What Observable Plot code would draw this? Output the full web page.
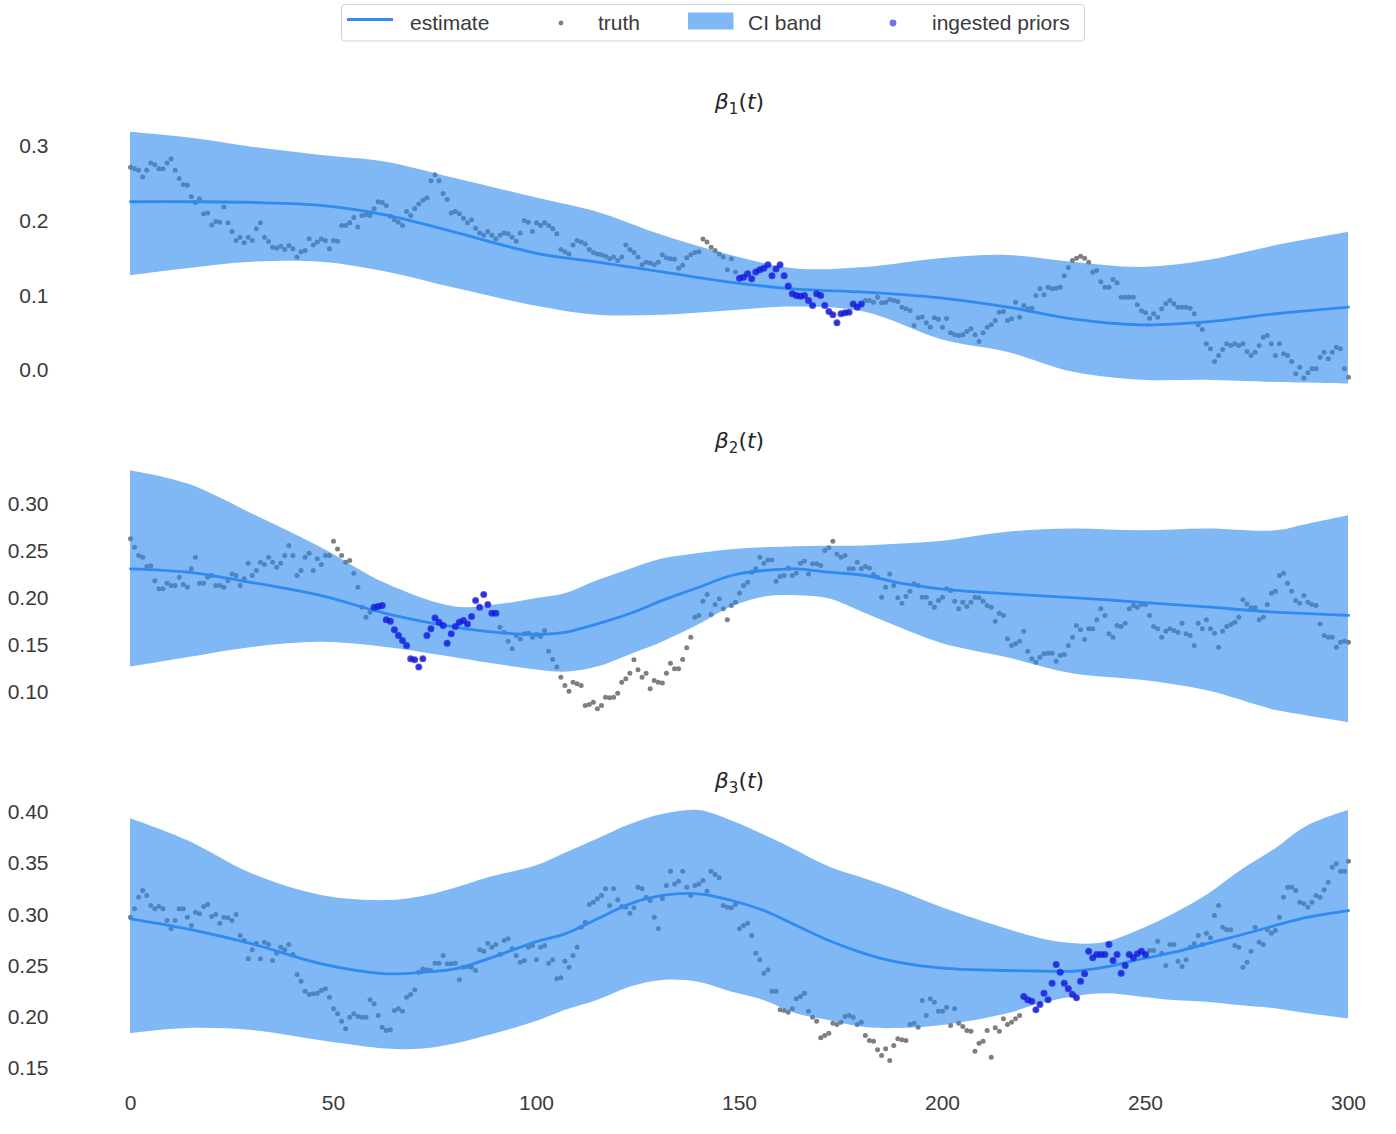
<!DOCTYPE html>
<html>
<head>
<meta charset="utf-8">
<script src="https://cdn.jsdelivr.net/npm/d3@7"></script>
<script src="https://cdn.jsdelivr.net/npm/@observablehq/plot@0.6"></script>
<style>
  html, body { margin: 0; padding: 0; background: #fff; overflow: hidden; }
  #root { width: 1396px; }
  #root svg { display: block; }
</style>
</head>
<body>
<div id="root"></div>
<script>
// ---------- data ----------
const xTicks = [0, 50, 100, 150, 200, 250, 300];
const titleSubs = ["1", "2", "3"];
const legendLabels = ["estimate", "truth", "CI band", "ingested priors"];

// ingested prior windows (days) per panel
const priorStart = [150, 60, 220];
const priorEnd = [180, 90, 250];

// truth, one value per day t = 0..300
const truth1 = [
0.272,0.270,0.268,0.259,0.268,0.278,0.2755,0.270,0.270,0.278,
0.2835,0.268,0.257,0.249,0.248,0.233,0.225,0.230,0.210,0.211,
0.195,0.1995,0.1986,0.219,0.198,0.186,0.174,0.1785,0.171,0.1785,
0.174,0.1897,0.198,0.1785,0.1728,0.165,0.164,0.1665,0.162,0.1674,
0.163,0.152,0.159,0.1607,0.1763,0.168,0.172,0.176,0.174,0.163,
0.174,0.173,0.194,0.194,0.198,0.205,0.192,0.2076,0.2085,0.2076,
0.2165,0.226,0.225,0.221,0.2067,0.202,0.1986,0.194,0.213,0.2076,
0.217,0.223,0.228,0.231,0.254,0.262,0.254,0.237,0.229,0.211,
0.213,0.210,0.204,0.198,0.202,0.1906,0.184,0.181,0.186,0.181,
0.176,0.181,0.184,0.183,0.1785,0.173,0.184,0.201,0.1986,0.186,
0.198,0.194,
0.1978,0.194,0.1897,0.183,0.162,0.159,0.156,0.168,0.174,0.172,
0.1695,0.162,0.158,0.156,0.155,0.153,0.1496,0.152,0.1473,0.152,
0.168,0.162,0.158,0.152,0.1415,0.145,0.144,0.1415,0.145,0.155,
0.151,0.1496,0.149,0.137,0.141,0.151,0.155,0.158,0.159,0.176,
0.172,0.165,0.1607,0.156,0.152,0.135,0.1496,0.132,0.1236,0.125,
0.1295,0.1227,0.132,0.135,0.137,0.1415,0.127,0.136,0.1415,0.127,
0.113,0.1027,0.1005,0.0995,0.1005,0.0937,0.087,0.1027,0.1005,0.087,
0.079,0.0745,0.0638,0.0759,0.0772,0.078,0.0892,0.0848,0.0892,0.0937,
0.0937,0.0915,0.098,0.0906,0.0915,0.095,0.0937,0.0924,0.0848,0.0826,
0.0803,0.0602,0.0705,0.0718,0.0638,0.058,0.0705,0.0687,0.058,0.0696,
0.0504,0.0478,0.0469,0.0478,0.0522,0.0558,0.0478,0.0388,0.0504,0.058,
0.0612,0.067,0.078,0.079,0.067,0.0692,0.0915,0.0714,0.087,0.0826,
0.0834,0.1004,0.1094,0.1013,0.1116,0.1094,0.110,0.1116,0.127,0.138,
0.1473,0.1504,0.153,0.1504,0.145,0.1317,0.134,0.119,0.1116,0.1116,
0.122,0.1174,0.0982,0.0982,0.0982,0.0982,0.088,0.080,0.0773,0.070,
0.0759,0.0714,0.0826,0.0893,0.0937,0.0893,0.0848,0.0848,0.0848,0.0834,
0.0759,0.0612,0.0549,0.0357,0.029,0.012,0.020,0.028,0.0357,0.0335,
0.0357,0.0335,0.0357,0.0254,0.020,0.0245,0.0335,0.0446,0.0469,0.0357,
0.020,0.0357,0.0223,0.020,0.012,-0.0045,0.0045,-0.010,-0.003,0.0022,
0.0022,0.0179,0.0245,0.0156,0.0245,0.0313,0.029,0.0022,-0.009
];
const truth2 = [
0.2635,0.2546,0.2457,0.244,0.234,0.235,0.219,0.2103,0.2103,0.2163,
0.2138,0.2138,0.2227,0.2149,0.212,0.2316,0.244,0.2163,0.2163,0.2227,
0.2245,0.2138,0.2138,0.212,0.219,0.2262,0.2245,0.2138,0.221,0.2376,
0.2245,0.2298,0.2387,0.2362,0.244,0.2387,0.2333,0.2376,0.2457,0.2564,
0.2457,0.2245,0.2298,0.244,0.2482,0.2298,0.2422,0.2362,0.2457,0.2457,
0.261,0.2528,0.2457,0.2387,0.2404,0.227,0.212,0.1908,0.180,0.1855,
0.1908,0.1915,0.1926,0.1773,0.1759,0.1667,0.1606,0.1553,0.150,0.1358,
0.1348,0.127,0.1358,0.1606,0.1677,0.1794,0.1748,0.1713,0.1525,0.1624,
0.1702,0.1748,0.1766,0.173,0.1809,0.1979,0.1908,0.2043,0.1936,0.1844,
0.1844,0.1695,0.1642,0.1546,0.1465,0.1606,0.157,0.1624,0.1631,0.1589,
0.1617,0.1596,
0.166,0.144,0.1351,0.127,0.1163,0.1074,0.1014,0.111,0.1092,0.1074,
0.0862,0.0872,0.0897,0.0826,0.0862,0.095,0.0943,0.095,0.0993,0.111,
0.1145,0.1206,0.1348,0.1241,0.1163,0.1206,0.1039,0.1128,0.111,0.110,
0.1206,0.1312,0.1252,0.1252,0.1351,0.1475,0.1589,0.180,0.1819,0.1972,
0.2043,0.183,0.1936,0.1997,0.189,0.1773,0.1926,0.1961,0.2057,0.2138,
0.2174,0.228,0.2316,0.244,0.2376,0.2411,0.2411,0.2184,0.2234,0.2245,
0.2326,0.2245,0.227,0.2376,0.2397,0.2262,0.2369,0.2369,0.2351,0.2511,
0.2539,0.261,0.2475,0.244,0.2457,0.2316,0.2316,0.2387,0.2316,0.234,
0.2326,0.2255,0.2227,0.2014,0.212,0.2262,0.2138,0.2007,0.195,0.2021,
0.2078,0.2156,0.2138,0.2014,0.2014,0.195,0.1908,0.1979,0.2014,0.2103,0.2085,
0.1972,0.189,0.1961,0.1915,0.1961,0.2014,0.2007,0.1972,0.1926,0.1908,
0.1759,0.1844,0.1819,0.1571,0.150,0.1518,0.1546,0.1652,0.144,0.1358,
0.1323,0.1376,0.1411,0.1418,0.1418,0.1333,0.1394,0.1404,0.150,0.1589,
0.1713,0.1667,0.1564,0.1677,0.1677,0.1773,0.189,0.1819,0.1624,0.1589,
0.1713,0.1702,0.1738,0.189,0.1926,0.1908,0.1936,0.1936,0.1819,0.1702,
0.1677,0.1589,0.1652,0.1677,0.166,0.1642,0.1738,0.1624,0.1606,0.150,
0.1738,0.1677,0.1773,0.1677,0.1631,0.1482,0.1652,0.1702,0.1723,0.1748,
0.180,0.1986,0.1943,0.1901,0.1901,0.1773,0.180,0.1936,0.2057,0.2078,
0.2245,0.227,0.2163,0.2078,0.1979,0.195,0.2032,0.1961,0.1936,0.1926,
0.173,0.1606,0.1589,0.1589,0.1482,0.1535,0.1546,0.1535
];
const truth3 = [
0.2978,0.306,0.3173,0.3238,0.319,0.3092,0.306,0.3082,0.306,0.2945,
0.2864,0.2945,0.306,0.306,0.2978,0.2897,0.3027,0.3011,0.3082,0.3102,
0.2984,0.3004,0.2919,0.2978,0.2972,0.2945,0.3004,0.2799,0.275,0.2571,
0.2659,0.2724,0.2571,0.2733,0.2711,0.2555,0.2626,0.2685,0.2659,0.2711,
0.2613,0.2418,0.2353,0.2255,0.2223,0.2229,0.2236,0.2262,0.2278,0.2197,
0.2083,0.2034,0.1962,0.1888,0.2001,0.2034,0.2008,0.2001,0.2001,0.2171,
0.2132,0.2018,0.1904,0.1871,0.1878,0.2066,0.2083,0.206,0.2197,0.2223,
0.2269,0.2441,0.2473,0.2464,0.2457,0.2528,0.2528,0.2604,0.2522,0.2522,
0.2528,0.2366,0.2489,0.2496,0.2489,0.2457,0.2659,0.2646,0.2724,0.2685,
0.2711,0.2613,0.275,0.2767,0.2669,0.2604,0.2538,0.2555,0.2685,0.2701,0.2561,
0.2685,0.2701,0.2529,0.2561,0.2376,0.2386,0.2548,0.2489,0.2604,0.2685,
0.288,0.2929,0.3102,0.3124,0.3157,0.319,0.3255,0.3092,0.3255,0.3147,
0.3082,0.3075,0.3017,0.3069,0.3271,0.3255,0.3173,0.3141,0.2978,0.2864,
0.3157,0.3287,0.3427,0.3303,0.3329,0.3427,0.3271,0.319,0.3287,0.3303,
0.3336,0.3232,0.3427,0.3394,0.3362,0.3092,0.3075,0.3069,0.3102,0.2864,
0.2897,0.2919,0.2799,0.2626,0.2561,0.2431,0.2464,0.2255,0.2255,0.2073,
0.2066,0.205,0.2083,0.2181,0.2203,0.2236,0.206,0.2001,0.1962,0.18,
0.1822,0.1845,0.1942,0.193,0.1952,0.2008,0.2018,0.2001,0.193,0.1952,
0.1822,0.1774,0.1767,0.1683,0.1627,0.1693,0.1578,0.1725,0.179,0.178,
0.1774,0.193,0.1942,0.1904,0.2164,0.2018,0.2181,0.2148,0.206,0.206,0.2099,
0.192,0.2083,0.1942,0.191,0.1871,0.1864,0.1669,0.1747,0.1767,0.1871,
0.161,0.1897,0.1864,0.1985,0.193,0.1952,0.1985,0.2018,0.2203,0.2171,
0.2157,0.2073,0.2125,0.2236,0.2171,0.2333,0.2516,0.2441,0.2333,0.2278,
0.2223,0.219,0.2353,0.2425,0.2646,0.2581,0.2613,0.2613,0.2613,0.2711,
0.2555,0.2613,0.2431,0.2506,0.2613,0.2581,0.262,0.2646,0.2613,0.2652,
0.2652,0.2743,0.2626,0.2506,0.2711,0.2711,0.2548,0.2496,0.2561,0.2685,
0.2718,0.2799,0.2711,0.2821,0.2776,0.2994,0.3092,0.288,0.2854,0.2854,
0.2701,0.2685,0.2489,0.2538,0.2646,0.288,0.2733,0.2711,0.2854,0.2821,
0.2848,0.2978,0.3173,0.3271,0.3271,0.3238,0.3124,0.3108,0.3075,0.3124,
0.319,0.3173,0.3245,0.332,0.3466,0.3499,0.3427,0.3427,0.3525
];

// CI band and estimate, read at a few days per panel
const b1T   = [0,15,30,47,63,80,100,115,131,148,164,181,200,216,232,249,265,282,300];
const b1Hi  = [0.319,0.311,0.299,0.288,0.279,0.257,0.231,0.212,0.181,0.154,0.136,0.138,0.150,0.154,0.145,0.138,0.147,0.167,0.185];
const b1Lo  = [0.127,0.137,0.145,0.145,0.132,0.110,0.086,0.074,0.074,0.080,0.085,0.078,0.041,0.0245,-0.002,-0.013,-0.013,-0.016,-0.018];
const b1Est = [0.226,0.226,0.225,0.221,0.208,0.185,0.157,0.145,0.132,0.118,0.109,0.105,0.097,0.085,0.069,0.061,0.065,0.076,0.085];

const b2T   = [0,14,30,47,63,80,90,100,107,115,123,131,140,148,156,164,172,181,190,200,216,232,249,265,282,290,300];
const b2Hi  = [0.336,0.322,0.290,0.254,0.2156,0.191,0.193,0.200,0.205,0.219,0.231,0.242,0.248,0.252,0.254,0.255,0.2555,0.256,0.258,0.261,0.2706,0.274,0.272,0.274,0.272,0.279,0.288];
const b2Lo  = [0.127,0.137,0.148,0.1535,0.148,0.137,0.130,0.124,0.1216,0.127,0.140,0.1535,0.172,0.191,0.2014,0.203,0.1997,0.184,0.168,0.152,0.137,0.120,0.113,0.102,0.081,0.075,0.068];
const b2Est = [0.2316,0.228,0.217,0.203,0.184,0.1695,0.164,0.162,0.164,0.173,0.184,0.198,0.212,0.2245,0.2298,0.2316,0.228,0.2245,0.216,0.210,0.205,0.201,0.196,0.191,0.1855,0.184,0.182];

const b3T   = [0,14,30,47,63,72,80,88,100,107,115,123,131,140,148,156,164,172,181,189,200,216,224,232,240,249,257,265,273,282,290,300];
const b3Hi  = [0.394,0.3727,0.340,0.319,0.314,0.318,0.326,0.336,0.348,0.360,0.374,0.388,0.398,0.402,0.392,0.378,0.363,0.347,0.335,0.324,0.307,0.286,0.277,0.272,0.273,0.286,0.301,0.319,0.342,0.3645,0.387,0.402];
const b3Lo  = [0.184,0.189,0.187,0.177,0.169,0.169,0.174,0.182,0.196,0.2066,0.2164,0.2294,0.236,0.2343,0.2246,0.2164,0.2034,0.197,0.190,0.189,0.192,0.2034,0.2132,0.2197,0.2229,0.2197,0.2164,0.2148,0.2115,0.2083,0.2034,0.1985];
const b3Est = [0.2962,0.2864,0.2717,0.2522,0.2425,0.244,0.2473,0.257,0.274,0.2815,0.2962,0.3108,0.319,0.3206,0.3141,0.3043,0.2897,0.275,0.262,0.2538,0.248,0.2457,0.2452,0.245,0.2489,0.257,0.2636,0.2717,0.2799,0.2897,0.2978,0.3043];

// y axis ticks per panel
const y1Ticks = [0.0, 0.1, 0.2, 0.3];
const y2Ticks = [0.10, 0.15, 0.20, 0.25, 0.30];
const y3Ticks = [0.15, 0.20, 0.25, 0.30, 0.35, 0.40];

// ---------- styling / layout ----------
const FONT = "'Liberation Sans', Arial, Helvetica, sans-serif";
const TEXT = "#3a3a3a";
const BAND = "#2b87ee";
const LINE = "#2f8af2";
const TRUTH = "#7f7f7f";
const PRIOR = "#1010e8";

const panels = [
  {truth: truth1, t: b1T, hi: b1Hi, lo: b1Lo, est: b1Est, ticks: y1Ticks, fmt: ".1f",
   domain: [-0.0348, 0.3361], height: 361, mt: 74, mb: 10},
  {truth: truth2, t: b2T, hi: b2Hi, lo: b2Lo, est: b2Est, ticks: y2Ticks, fmt: ".2f",
   domain: [0.0553, 0.349], height: 338, mt: 52, mb: 10},
  {truth: truth3, t: b3T, hi: b3Hi, lo: b3Lo, est: b3Est, ticks: y3Ticks, fmt: ".2f",
   domain: [0.1461, 0.4137], height: 378, mt: 54, mb: 50}
];

const root = document.getElementById("root");

// ---------- legend ----------
const legendSvg = d3.create("svg").attr("width", 1396).attr("height", 45)
  .style("font-family", FONT).style("font-size", "21px");
legendSvg.append("rect").attr("x", 341.5).attr("y", 4.5).attr("width", 743).attr("height", 36.5)
  .attr("rx", 4).attr("fill", "white").attr("stroke", "#d4d4d4").attr("stroke-width", 1.2);
legendSvg.append("line").attr("x1", 347).attr("x2", 393).attr("y1", 19.5).attr("y2", 19.5)
  .attr("stroke", LINE).attr("stroke-width", 3);
legendSvg.append("circle").attr("cx", 561).attr("cy", 23).attr("r", 2.4).attr("fill", TRUTH);
legendSvg.append("rect").attr("x", 688).attr("y", 12.5).attr("width", 45.5).attr("height", 17)
  .attr("fill", BAND).attr("fill-opacity", 0.6);
legendSvg.append("circle").attr("cx", 893).attr("cy", 23).attr("r", 3.4).attr("fill", PRIOR).attr("fill-opacity", 0.6);
const legendX = [410, 598, 748, 932];
legendLabels.forEach((s, i) => {
  legendSvg.append("text").attr("x", legendX[i]).attr("y", 29.5).attr("fill", TEXT).text(s);
});
root.appendChild(legendSvg.node());

// ---------- panels ----------
panels.forEach((p, i) => {
  const days = d3.range(p.truth.length);
  const priorDays = d3.range(priorStart[i], priorEnd[i] + 1);
  const band = p.t.map((t, k) => ({t, hi: p.hi[k], lo: p.lo[k], est: p.est[k]}));
  const chart = Plot.plot({
    width: 1396,
    height: p.height,
    marginLeft: 130,
    marginRight: 48,
    marginTop: p.mt,
    marginBottom: p.mb,
    style: {fontFamily: FONT, fontSize: "21px", color: TEXT, background: "white", overflow: "visible"},
    x: {domain: [0, 300], ticks: xTicks, tickSize: 0, tickPadding: 23, label: null, axis: i === 2 ? "bottom" : null},
    y: {domain: p.domain, ticks: p.ticks, tickFormat: d3.format(p.fmt), tickSize: 0, tickPadding: 82, label: null},
    marks: [
      Plot.dot(days, {x: d => d, y: d => p.truth[d], r: 2.5, fill: TRUTH}),
      Plot.areaY(band, {x: "t", y1: "lo", y2: "hi", fill: BAND, fillOpacity: 0.6, curve: "catmull-rom"}),
      Plot.line(band, {x: "t", y: "est", stroke: LINE, strokeWidth: 2.8, curve: "catmull-rom"}),
      Plot.dot(priorDays, {x: d => d, y: d => p.truth[d], r: 3.5, fill: PRIOR, fillOpacity: 0.7}),
      Plot.text([titleSubs[i]], {frameAnchor: "top", dy: -26, text: d => "β" + d + "(t)",
        fontSize: 22, fontFamily: "DejaVu Sans", fill: "#262626"})
    ]
  });
  // typeset the title like math: italic β and t, lowered subscript
  d3.select(chart).selectAll('g[aria-label="text"] text').each(function() {
    const el = d3.select(this);
    const sub = titleSubs[i];
    el.text(null);
    el.append("tspan").attr("font-style", "italic").text("β");
    el.append("tspan").attr("font-size", 15).attr("dy", 5).text(sub);
    el.append("tspan").attr("dy", -5).text("(");
    el.append("tspan").attr("font-style", "italic").text("t");
    el.append("tspan").text(")");
  });
  root.appendChild(chart);
});
</script>
</body>
</html>
